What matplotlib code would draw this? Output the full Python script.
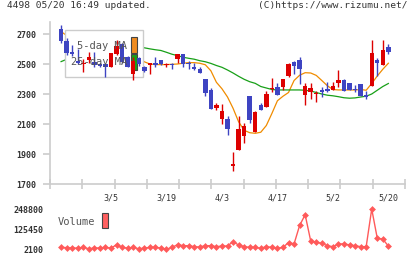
import matplotlib
matplotlib.use("Agg")
import matplotlib.pyplot as plt
import matplotlib.transforms as mtransforms
from matplotlib.patches import Rectangle
import numpy as np

# daily prices, 2/20 .. 5/20 (60 trading days)
opens = [2731, 2655, 2582, 2522, 2498, 2527, 2516, 2500, 2498, 2482,
         2564, 2633, 2549, 2433, 2542, 2482, 2496, 2509, 2527, 2491,
         2498, 2536, 2567, 2509, 2482, 2467, 2400, 2327, 2209, 2131,
         2133, 1822, 1927, 2020, 2287, 2047, 2227, 2216, 2333, 2344,
         2349, 2420, 2513, 2527, 2296, 2313, 2298, 2327, 2331, 2327,
         2376, 2393, 2376, 2333, 2367, 2291, 2356, 2527, 2496, 2611]
closes = [2655, 2571, 2564, 2505, 2509, 2549, 2493, 2487, 2482, 2571,
          2620, 2516, 2482, 2522, 2500, 2456, 2505, 2493, 2498, 2502,
          2494, 2567, 2500, 2500, 2467, 2442, 2304, 2198, 2227, 2189,
          2069, 1833, 2067, 2087, 2127, 2180, 2193, 2300, 2340, 2296,
          2398, 2498, 2487, 2467, 2353, 2340, 2309, 2316, 2322, 2353,
          2393, 2322, 2327, 2327, 2287, 2278, 2576, 2509, 2593, 2580]
highs = [2760, 2671, 2627, 2600, 2531, 2578, 2578, 2509, 2500, 2575,
         2660, 2640, 2555, 2544, 2548, 2490, 2509, 2544, 2530, 2505,
         2505, 2568, 2568, 2522, 2509, 2482, 2400, 2340, 2238, 2231,
         2153, 1916, 2151, 2104, 2287, 2187, 2238, 2320, 2404, 2376,
         2398, 2505, 2520, 2549, 2376, 2376, 2320, 2349, 2380, 2380,
         2460, 2400, 2376, 2360, 2367, 2320, 2660, 2538, 2660, 2633]
lows = [2642, 2560, 2553, 2500, 2449, 2509, 2482, 2478, 2411, 2480,
        2560, 2510, 2478, 2393, 2490, 2450, 2433, 2482, 2495, 2482,
        2470, 2505, 2478, 2467, 2458, 2440, 2289, 2198, 2193, 2098,
        2024, 1789, 1927, 1976, 2104, 2047, 2193, 2216, 2316, 2296,
        2327, 2413, 2431, 2364, 2229, 2269, 2247, 2278, 2313, 2327,
        2349, 2322, 2327, 2313, 2287, 2264, 2356, 2420, 2496, 2567]

ma5 = [2716, 2690, 2650, 2600, 2560, 2540, 2525, 2515, 2505, 2510,
       2530, 2540, 2545, 2540, 2535, 2515, 2500, 2496, 2496, 2496,
       2498, 2500, 2505, 2509, 2509, 2505, 2495, 2455, 2378, 2335,
       2280, 2205, 2115, 2058, 2042, 2038, 2045, 2090, 2170, 2255,
       2285, 2310, 2390, 2425, 2442, 2440, 2424, 2390, 2355, 2330,
       2327, 2327, 2327, 2327, 2330, 2325, 2370, 2420, 2465, 2505]
ma25 = [2516, 2531, 2545, 2560, 2572, 2582, 2590, 2597, 2602, 2606,
        2609, 2611, 2612, 2612, 2612, 2608, 2601, 2595, 2590, 2578,
        2565, 2556, 2545, 2538, 2532, 2522, 2515, 2504, 2490, 2478,
        2460, 2440, 2418, 2398, 2382, 2371, 2350, 2340, 2330, 2327,
        2327, 2327, 2327, 2327, 2325, 2320, 2310, 2300, 2292, 2288,
        2282, 2275, 2272, 2274, 2280, 2285, 2300, 2325, 2350, 2370]

volume = [14000, 12000, 10000, 9000, 14000, 5000, 10000, 10000, 14000, 9000,
          30000, 14000, 9000, 14000, 5000, 9000, 14000, 14000, 10000, 2100,
          14000, 30000, 24000, 24000, 18000, 16000, 24000, 24000, 18000, 22000,
          22000, 49000, 28000, 18000, 14000, 14000, 8000, 18000, 14000, 8000,
          14000, 43000, 35000, 148000, 214000, 53000, 45000, 39000, 24000, 18000,
          35000, 35000, 29000, 24000, 18000, 18000, 248800, 70000, 64000, 22000]

date_pos = [9, 19, 29, 39, 49, 59]
date_labels = ["3/5", "3/19", "4/3", "4/17", "5/2", "5/20"]
price_ticks = [1700, 1900, 2100, 2300, 2500, 2700]
vol_ticks = [2100, 125450, 248800]

RED = "#dd0000"
BLUE = "#3e44c2"
GRAY = "#cccccc"
TXT = "#333333"
MONO = "DejaVu Sans Mono"

fig = plt.figure(figsize=(4.2, 2.59), dpi=100)

ax = fig.add_axes([50 / 420, 75 / 259, 355 / 420, 162 / 259])
ax.set_xlim(-2, 62)
ax.set_ylim(1700, 2780)

x = np.arange(len(opens))
ax.plot(x, ma5, color="#f08c00", lw=0.9, zorder=2)
ax.plot(x, ma25, color="#18a018", lw=0.9, zorder=2)

# legend box (drawn over the lines, under the candles)
box = Rectangle((65 / 420, 1 - 77 / 259), 78 / 420, 47 / 259, transform=fig.transFigure,
                facecolor="white", edgecolor=GRAY, lw=1, zorder=3)
ax.add_patch(box)
fig.text(77 / 420, 1 - 46 / 259, "5-day MA", family=MONO, fontsize=7.5,
         color="#555555", va="center", zorder=6)
fig.text(71 / 420, 1 - 62 / 259, "25-day MA", family=MONO, fontsize=7.5,
         color="#555555", va="center", zorder=6)
ax.add_patch(Rectangle((131 / 420, 1 - 53 / 259), 6 / 420, 16 / 259, transform=fig.transFigure,
                       facecolor="#f08c20", edgecolor="#444444", lw=0.8, zorder=4))
ax.add_patch(Rectangle((131 / 420, 1 - 70 / 259), 6 / 420, 16 / 259, transform=fig.transFigure,
                       facecolor="#18a018", edgecolor="#444444", lw=0.8, zorder=4))

colors = [RED if c >= o else BLUE for o, c in zip(opens, closes)]
ax.vlines(x, lows, highs, colors=colors, lw=1, zorder=5)
bottoms = [min(o, c) for o, c in zip(opens, closes)]
heights = [max(abs(c - o), 7) for o, c in zip(opens, closes)]
ax.bar(x, heights, bottom=bottoms, width=0.8, color=colors, zorder=5)

for s in ["top", "right"]:
    ax.spines[s].set_visible(False)
for s in ["left", "bottom"]:
    ax.spines[s].set_color(GRAY)
    ax.spines[s].set_linewidth(1.2)

ax.set_xticks(np.linspace(-2, 62, 12))
ax.set_xticklabels([])
ax.tick_params(axis="x", direction="inout", length=7, color=GRAY, width=1.2)
ax.set_yticks(price_ticks)
ax.set_yticklabels([str(t) for t in price_ticks], family=MONO, fontsize=6,
                   fontweight="bold", color=TXT)
ax.tick_params(axis="y", direction="out", length=5, color=GRAY, width=1.2, pad=5)

trans = mtransforms.blended_transform_factory(ax.transData, fig.transFigure)
for p, lab in zip(date_pos, date_labels):
    ax.text(p, 1 - 198 / 259, lab, transform=trans, ha="center", va="center",
            family=MONO, fontsize=6, color=TXT, clip_on=False)

# volume panel
vax = fig.add_axes([50 / 420, 6 / 259, 355 / 420, 48 / 259])
vax.set_xlim(-2, 62)
vax.set_ylim(-20700, 273500)
vax.plot(x, volume, color="#ff5a5a", lw=1, marker="D", markersize=3.5,
         markeredgewidth=0)
for s in vax.spines.values():
    s.set_visible(False)
vax.set_xticks([])
vax.set_yticks(vol_ticks)
vax.set_yticklabels([str(t) for t in vol_ticks], family=MONO, fontsize=6,
                    fontweight="bold", color=TXT)
vax.tick_params(axis="y", length=0, pad=5)
fig.text(58 / 420, 1 - 222 / 259, "Volume", family=MONO, fontsize=7.5,
         color="#555555", va="center")
vax.add_patch(Rectangle((102 / 420, 1 - 228 / 259), 6 / 420, 15 / 259, transform=fig.transFigure,
                        facecolor="#ff6060", edgecolor="#444444", lw=0.8, clip_on=False))

fig.text(7 / 420, 1 - 1.5 / 259, "4498 05/20 16:49 updated.", family=MONO, fontsize=6.8,
         color=TXT, va="top")
fig.text(408 / 420, 1 - 1.5 / 259, "(C)https://www.rizumu.net/", family=MONO, fontsize=6.8,
         color=TXT, va="top", ha="right")

fig.savefig("out.png", dpi=100)
